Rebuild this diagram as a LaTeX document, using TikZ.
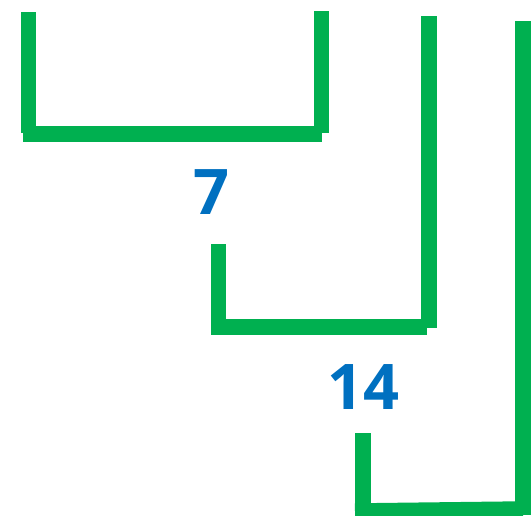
\documentclass[tikz,border=0pt]{standalone}
\usepackage{fontspec}
\setmainfont{Open Sans}
\definecolor{bargreen}{HTML}{00B050}
\definecolor{numblue}{HTML}{0070C0}
\tikzset{
	bar/.style={line width=15.5pt, bargreen, line cap=butt},
	num/.style={numblue, font=\fontsize{63}{63}\selectfont\bfseries, inner sep=0pt}
}
\begin{document}
\begin{tikzpicture}[x=1pt, y=-1pt]
		\useasboundingbox (0,0) rectangle (531,515);
		\clip (0,0) rectangle (531,515);

		% first bracket
		\draw[bar] (28.5,12) -- (28.5,133);
		\draw[bar] (23,134) -- (322,134);
		\draw[bar] (321.7,11) -- (321.7,133);

		% second bracket
		\draw[bar] (218.4,244) -- (218.4,327);
		\draw[bar] (211,327) -- (427,327);
		\draw[bar] (428.8,16) -- (428.8,328);

		% third bracket
		\draw[bar] (363,433) -- (363,515);
		\draw[bar] (355,511) -- (523,509);
		\draw[bar] (523,21) -- (523,515);

		\node[num] (seven) at (211.5,192) {7};
		\node[num] (fourteen) at (363,387.5) {14};

	\end{tikzpicture}
\end{document}
